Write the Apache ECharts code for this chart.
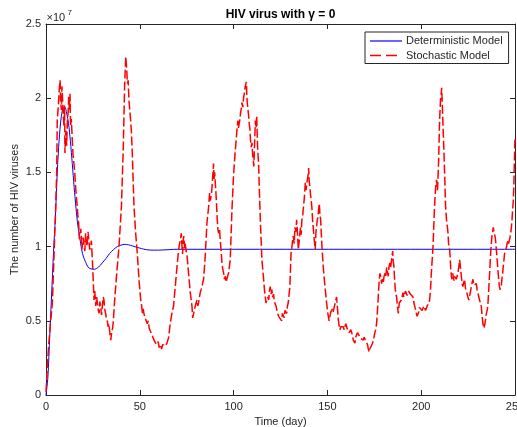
<!DOCTYPE html>
<html><head><meta charset="utf-8">
<script src="https://cdn.jsdelivr.net/npm/echarts@6/dist/echarts.min.js"></script>
<style>html,body{margin:0;padding:0;background:#fff}#c{width:517px;height:427px}</style>
</head><body><div id="c"></div>
<script>
// ---- text ----
const titleText = 'HIV virus with \u03b3 = 0';
const xAxisName = 'Time (day)';
const yAxisName = 'The number of HIV viruses';
const seriesNames = ['Deterministic Model', 'Stochastic Model'];
const yExponentText = ['\u00d710', '7'];

// ---- axes (y values in units of 10^7) ----
const xMin = 0, xMax = 250, xStep = 50;
const yMin = 0, yMax = 2.5, yStep = 0.5;

// ---- deterministic model [day, viruses / 1e7] ----
const deterministic = [
[0,0],[1,0.12],[2,0.4],[3,0.68],[4,0.96],[5,1.2],[6,1.5],[7,1.72],[8,1.86],[9,1.93],[10,1.94],
[11,1.9],[12,1.83],[13,1.71],[14,1.56],[15,1.4],[16,1.26],[17,1.14],[18,1.06],[19,0.98],[20,0.93],
[21,0.9],[22,0.87],[23,0.855],[24,0.85],[25,0.848],[26,0.848],[27,0.853],[28,0.862],[29,0.875],[30,0.89],
[32,0.92],[34,0.955],[36,0.98],[38,1.0],[40,1.01],[42,1.015],[44,1.012],[46,1.005],[48,0.997],[50,0.99],
[52,0.983],[55,0.977],[58,0.976],[62,0.977],[66,0.98],[70,0.982],[250,0.982]
];

// ---- stochastic model [day, viruses / 1e7] ----
const stochastic = [
[0,0.02],[0.7,0.19],[1.5,0.35],[2.5,0.5],[3.4,0.62],[4.3,0.95],[5.0,1.2],[5.7,1.5],[6.0,1.85],[6.6,1.95],[7.0,2.05],[7.5,2.12],[7.8,1.98],[8.2,1.92],[8.5,2.08],[8.9,1.97],[9.2,1.88],[9.6,1.81],[9.9,1.95],[10.1,1.63],[10.4,1.75],[10.7,1.78],[11.0,1.68],[11.4,1.85],[11.8,1.9],[12.1,2.01],[12.5,1.92],[12.8,2.03],[13.1,1.81],[13.5,1.86],[14.0,1.72],[14.4,1.62],[14.9,1.56],[15.3,1.5],[15.8,1.40],[16.2,1.33],[16.7,1.27],[17.0,1.2],[17.4,1.16],[17.8,1.05],[18.1,1.09],[18.5,1.12],[18.8,1.08],[19.1,0.98],[19.4,0.98],[19.8,1.06],[20.3,1.07],[20.7,0.97],[21.1,1.09],[21.5,1.0],[22.0,1.02],[22.4,1.1],[22.9,1.11],[23.3,0.98],[23.8,1.0],[24.2,1.04],[24.7,0.91],[25.1,0.8],[25.6,0.64],[26.0,0.7],[26.5,0.6],[27.0,0.66],[27.4,0.62],[27.9,0.57],[28.3,0.55],[28.7,0.63],[29.1,0.6],[29.6,0.54],[30.0,0.55],[30.5,0.66],[30.9,0.64],[31.3,0.58],[31.8,0.57],[32.2,0.52],[32.7,0.5],[33.1,0.46],[33.6,0.48],[34.0,0.42],[34.5,0.37],[35,0.42],[35.5,0.45],[35.9,0.5],[36.6,0.64],[37.7,0.82],[38.9,1.0],[40.2,1.27],[41.2,1.67],[41.9,2.08],[42.5,2.28],[43.0,2.2],[43.4,2.1],[43.8,2.12],[44.2,1.99],[44.6,2.0],[45.1,1.85],[45.5,1.78],[46.0,1.63],[46.9,1.27],[47.8,1.09],[48.7,0.95],[49.6,0.77],[50.5,0.64],[51.0,0.6],[51.4,0.55],[51.8,0.58],[52.2,0.55],[52.8,0.52],[53.4,0.5],[54.0,0.48],[54.5,0.5],[55.0,0.45],[55.8,0.46],[56.3,0.41],[57.0,0.42],[57.6,0.37],[58.2,0.38],[58.8,0.34],[59.3,0.33],[59.8,0.36],[60.3,0.32],[61.1,0.34],[61.6,0.31],[62.2,0.34],[62.9,0.35],
[63.6,0.33],[64.5,0.35],[65.4,0.39],[66.2,0.48],[67.1,0.55],[68.0,0.6],[68.9,0.73],[69.8,0.86],[70.7,0.98],[71.2,1.02],[71.6,1.04],[72.1,1.09],[72.5,1.0],[72.8,0.95],[73.2,1.05],[73.5,1.07],[73.9,0.99],[74.2,1.02],[74.7,0.97],[75.1,0.95],[76.0,0.82],[76.9,0.69],[77.8,0.6],[78.2,0.52],[78.7,0.55],[79.2,0.58],[79.6,0.6],[80.0,0.62],[80.5,0.64],[80.9,0.6],[81.3,0.62],[81.8,0.66],[82.2,0.69],[82.7,0.71],[83.1,0.73],[84.0,0.78],[84.9,0.94],[85.8,1.16],[86.7,1.27],[87.2,1.36],[87.6,1.31],[88.1,1.35],[88.5,1.40],[88.9,1.48],[89.3,1.56],[89.6,1.45],[89.9,1.5],[90.3,1.42],[90.6,1.36],[91.3,1.18],[91.6,1.12],[92.0,1.09],[92.5,1.12],[92.9,1.04],[93.3,0.98],[93.8,0.89],[94.2,0.85],[94.7,0.82],[95.1,0.78],[95.6,0.8],[96.0,0.76],[96.4,0.75],[96.8,0.8],[97.3,0.82],[97.7,0.86],[98.2,0.91],[99.1,1.24],[100.0,1.49],[100.9,1.65],[101.4,1.72],[101.8,1.79],[102.3,1.85],[102.6,1.8],[103.0,1.81],[103.4,1.86],[103.7,1.9],[104.1,1.93],[104.4,1.97],[104.9,1.94],[105.3,2.0],[105.8,2.04],[106.2,2.08],[106.8,2.11],[107.1,2.0],[107.3,1.97],[107.7,1.92],[108.0,1.88],[108.4,1.82],[108.7,1.79],[109.0,1.72],[109.4,1.67],[109.8,1.7],[110.1,1.63],[110.5,1.58],[110.8,1.54],[111.2,1.7],[111.6,1.85],[112.0,1.8],[112.3,1.88],[112.8,1.67],[113.3,1.56],[113.9,1.31],[114.4,1.13],[115.1,0.91],[116.0,0.78],[116.5,0.7],[116.9,0.66],[117.3,0.62],[117.8,0.62],[118.2,0.66],[118.7,0.64],[119.1,0.7],[119.5,0.73],[120.0,0.68],[120.4,0.71],[120.8,0.66],[121.3,0.68],[121.7,0.63],[122.2,0.64],[122.6,0.6],[123.1,0.57],[123.5,0.55],[124.0,0.53],[124.5,0.52],[124.9,0.52],
[125.6,0.5],[126.0,0.55],[126.5,0.55],[127.0,0.52],[127.4,0.57],[127.9,0.58],[128.3,0.55],[128.7,0.6],[129.1,0.62],[130.0,0.73],[130.6,0.95],[131.1,1.0],[131.5,1.05],[131.8,1.07],[132.3,1.02],[132.7,1.13],[133.2,1.1],[133.6,1.18],[134.0,1.1],[134.5,0.98],[135.0,1.04],[135.4,1.1],[135.7,1.13],[136.0,1.08],[136.4,1.18],[136.8,1.2],[137.1,1.25],[137.5,1.3],[137.9,1.36],[138.2,1.43],[138.6,1.38],[139.0,1.42],[139.3,1.45],[139.7,1.48],[140.0,1.53],[140.3,1.44],[140.7,1.40],[141.0,1.35],[141.4,1.31],[141.8,1.25],[142.1,1.18],[142.5,1.12],[142.8,1.07],[143.2,1.02],[143.5,0.98],[143.9,1.1],[144.2,1.13],[144.6,1.18],[145.0,1.2],[145.3,1.25],[145.7,1.29],[146.0,1.22],[146.4,1.18],[147.1,1.0],[147.8,0.86],[148.7,0.73],[149.6,0.62],[150.1,0.56],[150.5,0.53],[150.9,0.5],[151.4,0.51],[151.8,0.56],[152.2,0.55],[152.7,0.58],[153.1,0.56],[153.6,0.59],[154.0,0.6],[154.5,0.64],[154.9,0.66],[155.4,0.58],[155.8,0.51],[156.2,0.47],[156.7,0.44],[157.1,0.46],[157.6,0.45],[158.0,0.47],[158.5,0.46],[158.9,0.44],[159.3,0.44],[159.8,0.48],[160.2,0.47],[160.7,0.44],[161.1,0.44],[161.6,0.42],[162.0,0.42],[162.5,0.44],[162.9,0.43],[163.4,0.4],[163.8,0.37],[164.3,0.38],[164.7,0.35],[165.1,0.39],[165.6,0.4],[166.0,0.42],[166.5,0.42],[166.9,0.4],[167.3,0.4],[167.8,0.38],[168.2,0.39],[168.7,0.37],[169.1,0.37],[169.6,0.39],[170.0,0.38],[170.5,0.36],[170.9,0.36],[171.4,0.34],[171.8,0.31],[172.3,0.29],[172.6,0.31],[173.0,0.32],[173.4,0.33],[173.7,0.34],[174.1,0.35],[174.5,0.37],[174.9,0.38],[175.3,0.42],[175.7,0.44],[176.2,0.48],[176.6,0.55],[177.1,0.66],[177.5,0.75],[178.0,0.82],[178.4,0.8],[178.9,0.75],[179.3,0.78],[179.8,0.76],[180.2,0.8],[180.7,0.82],[181.1,0.8],[181.6,0.86],[182.0,0.83],[182.4,0.8],[182.8,0.86],[183.3,0.89],[183.7,0.86],[184.2,0.91],[184.8,0.97],[185.1,0.9],[185.5,0.86],[185.8,0.78],[186.2,0.71],[186.5,0.68],[186.9,0.66],[187.3,0.6],[187.8,0.55],[188.3,0.62],[188.7,0.63],
[189.0,0.63],[189.4,0.64],[189.8,0.66],[190.3,0.69],[190.7,0.66],[191.2,0.67],[191.6,0.7],[192.0,0.69],[192.5,0.67],[192.9,0.68],[193.3,0.7],[193.8,0.7],[194.2,0.68],[194.7,0.67],[195.1,0.69],[195.6,0.66],[196.0,0.63],[196.5,0.6],[196.9,0.58],[197.4,0.55],[197.8,0.53],[198.3,0.52],[198.7,0.56],[199.1,0.59],[199.6,0.58],[200.0,0.6],[200.5,0.57],[200.9,0.57],[201.4,0.6],[201.8,0.59],[202.3,0.57],[202.7,0.57],[203.2,0.6],[203.6,0.59],[204.1,0.62],[204.5,0.64],[205.0,0.72],[205.4,0.82],[206.3,1.0],[207.1,1.27],[207.7,1.40],[208.2,1.45],[208.7,1.38],[209.3,1.58],[209.8,1.85],[210.3,1.99],[210.6,2.02],[210.9,2.07],[211.2,1.98],[211.4,1.9],[211.9,1.72],[212.5,1.49],[213.0,1.27],[213.5,1.18],[213.9,1.14],[214.3,1.09],[214.6,1.02],[215.0,1.0],[215.4,0.94],[215.7,0.86],[216.1,0.8],[216.4,0.78],[216.8,0.82],[217.1,0.82],[217.5,0.77],[217.8,0.8],[218.3,0.8],[218.7,0.78],[219.1,0.8],[219.6,0.82],[220.0,0.86],[220.5,0.91],[221.0,0.85],[221.4,0.8],[221.8,0.75],[222.2,0.73],[222.7,0.76],[223.1,0.78],[223.6,0.72],[224.0,0.71],[224.5,0.68],[224.9,0.66],[225.4,0.64],[225.8,0.64],[226.3,0.7],[226.7,0.73],[227.2,0.76],[227.6,0.78],[228.0,0.74],[228.5,0.73],[228.9,0.75],[229.4,0.75],[229.8,0.71],[230.2,0.69],[230.7,0.66],[231.1,0.64],[231.6,0.62],[232.0,0.6],[232.5,0.53],[232.9,0.48],[233.4,0.45],[233.8,0.47],[234.2,0.5],[234.6,0.54],[234.9,0.55],[235.3,0.58],[235.6,0.62],[236.3,0.78],[237.0,0.95],[237.4,1.02],[237.7,1.07],[238.1,1.1],[238.4,1.13],[238.8,1.1],[239.1,1.09],[239.5,1.06],[239.8,1.05],[240.2,0.96],[240.5,0.91],[240.9,0.84],[241.3,0.78],[241.6,0.74],[242.0,0.71],[242.3,0.72],[242.7,0.73],[243.0,0.78],[243.4,0.82],[243.7,0.86],[244.1,0.91],[244.4,0.95],[244.8,0.95],[245.1,0.98],[245.5,1.0],[245.8,1.02],[246.2,1.04],[246.6,1.02],[246.9,1.02],[247.3,1.06],[247.7,1.09],[248.0,1.12],[248.4,1.18],[248.7,1.24],[249.1,1.31],[249.4,1.42],[249.6,1.54],[250,1.74]
];

// ---- styling ----
const FONT = '"Liberation Sans", Arial, Helvetica, sans-serif';
const AX = '#262626';
const BLUE = '#0000ff', RED = '#ff0000';
// legend glyphs (32x10 box): solid line / dashed line
const ICON_SOLID = 'path://M0,0M32,10M0,4.4H32V5.6H0Z';
const ICON_DASHED = 'path://M0,0M32,10M0,4.2H11V5.8H0ZM16,4.2H27V5.8H16Z';

function xAxisCfg(pos, showLabel) {
  return {
    type: 'value', position: pos, min: xMin, max: xMax, interval: xStep,
    axisLine: { show: true, onZero: false, lineStyle: { color: AX, width: 1 } },
    axisTick: { show: true, inside: true, length: 5, lineStyle: { color: AX } },
    axisLabel: { show: showLabel, color: AX, fontSize: 11, fontFamily: FONT, margin: 6 },
    splitLine: { show: false },
    name: showLabel ? xAxisName : '', nameLocation: 'middle', nameGap: 21, nameMoveOverlap: false,
    nameTextStyle: { color: AX, fontSize: 11, fontFamily: FONT }
  };
}
function yAxisCfg(pos, showLabel) {
  return {
    type: 'value', position: pos, min: yMin, max: yMax, interval: yStep,
    axisLine: { show: true, onZero: false, lineStyle: { color: AX, width: 1 } },
    axisTick: { show: true, inside: true, length: 5, lineStyle: { color: AX } },
    axisLabel: { show: showLabel, color: AX, fontSize: 11, fontFamily: FONT, margin: 5 },
    splitLine: { show: false },
    name: showLabel ? yAxisName : '', nameLocation: 'middle', nameGap: 26, nameRotate: 90, nameMoveOverlap: false,
    nameTextStyle: { color: AX, fontSize: 11, fontFamily: FONT }
  };
}

const chart = echarts.init(document.getElementById('c'), null, { renderer: 'canvas' });
chart.setOption({
  animation: false,
  backgroundColor: '#ffffff',
  color: [BLUE, RED],
  grid: { left: 46, right: 2, top: 24, bottom: 32, containLabel: false, outerBoundsMode: 'none' },
  xAxis: [xAxisCfg('bottom', true), xAxisCfg('top', false)],
  yAxis: [yAxisCfg('left', true), yAxisCfg('right', false)],
  legend: {
    show: true, orient: 'vertical', left: 365, top: 32,
    backgroundColor: '#ffffff', borderColor: AX, borderWidth: 1, borderRadius: 0,
    padding: [2, 6, 1, 5], itemGap: 0.5, itemWidth: 32, itemHeight: 10,
    textStyle: { color: AX, fontSize: 11, fontFamily: FONT, lineHeight: 14, padding: [0, 0, 0, -1] },
    data: [
      { name: seriesNames[0], icon: ICON_SOLID, itemStyle: { color: BLUE, borderWidth: 0 } },
      { name: seriesNames[1], icon: ICON_DASHED, itemStyle: { color: RED, borderWidth: 0 } }
    ]
  },
  graphic: [
    { type: 'text', x: 280.5, y: 15, style: { text: titleText, fill: '#000', font: 'bold 12px ' + FONT, align: 'center', verticalAlign: 'middle' } },
    { type: 'text', x: 46.5, y: 18, style: { text: yExponentText[0], fill: AX, font: '11px ' + FONT, align: 'left', verticalAlign: 'middle' } },
    { type: 'text', x: 67.5, y: 13, style: { text: yExponentText[1], fill: AX, font: '8px ' + FONT, align: 'left', verticalAlign: 'middle' } }
  ],
  series: [
    { name: seriesNames[0], type: 'line', data: deterministic, xAxisIndex: 0, yAxisIndex: 0,
      showSymbol: false, symbol: 'none', smooth: 0.3, color: BLUE,
      lineStyle: { color: BLUE, width: 1 }, itemStyle: { color: BLUE } },
    { name: seriesNames[1], type: 'line', data: stochastic, xAxisIndex: 0, yAxisIndex: 0,
      showSymbol: false, symbol: 'none', color: RED,
      lineStyle: { color: RED, width: 1.5, type: [9, 3] }, itemStyle: { color: RED } }
  ]
});
</script></body></html>
